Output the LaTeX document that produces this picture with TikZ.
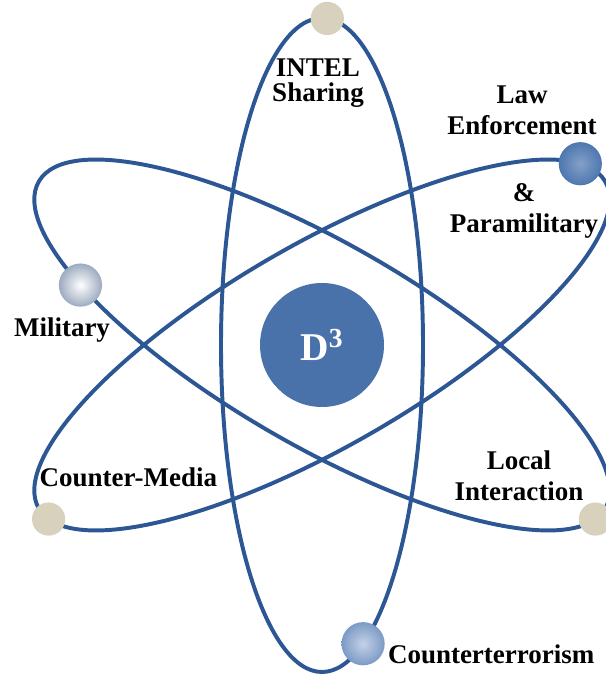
\documentclass[tikz,border=0pt]{standalone}
\usepackage{fontspec}
\setmainfont{Liberation Serif}
\definecolor{orbitblue}{RGB}{44,86,148}
\definecolor{coreblue}{RGB}{74,114,170}
\definecolor{sand}{RGB}{215,209,190}
\definecolor{deepblue}{RGB}{78,119,176}
\definecolor{midblue}{RGB}{124,154,198}
\definecolor{paleblue}{RGB}{184,201,226}
\tikzset{
	orbitline/.style={draw=orbitblue, line width=2.8pt},
	sandball/.style={circle, fill=sand, inner sep=0pt, minimum size=0.83cm},
	blueball/.style={circle, inner sep=0pt, minimum size=1.08cm, shading=radial},
	lbl/.style={align=center, font=\fontsize{19.2}{22}\selectfont\bfseries}
}
\begin{document}
\begin{tikzpicture}
	\useasboundingbox (0,0) rectangle (15.15,16.875);
	\coordinate (O) at (8.05,8.25);
	% three orbits
	\draw[orbitline, rotate around={90:(O)}] (O) ellipse [x radius=8.175, y radius=2.525];
	\draw[orbitline, rotate around={-30:(O)}] (O) ellipse [x radius=8.175, y radius=2.525];
	\draw[orbitline, rotate around={30:(O)}] (O) ellipse [x radius=8.175, y radius=2.525];
	% nucleus
	\node[circle, fill=coreblue, minimum size=3.1cm, text=white, font=\fontsize{28}{30}\selectfont\bfseries] (core) at (O) {D\textsuperscript{3}};
	% electrons
	\begin{scope}[shift={(O)}, rotate=90]
		\node[sandball] (intelball) at (357:8.175 and 2.525) {};
		\node[blueball, inner color=midblue!45!white, outer color=midblue] (ctball) at (204:8.175 and 2.525) {};
	\end{scope}
	\begin{scope}[shift={(O)}, rotate=30]
		\node[blueball, inner color=deepblue!70!white, outer color=deepblue] (lawball) at (16:8.175 and 2.525) {};
		\node[sandball] (mediaball) at (188:8.175 and 2.525) {};
	\end{scope}
	\begin{scope}[shift={(O)}, rotate=-30]
		\node[blueball, inner color=white, outer color=paleblue!85!black] (milball) at (223:8.175 and 2.525) {};
		\node[sandball] (localball) at (352:8.175 and 2.525) {};
	\end{scope}
	% labels
	\node[lbl] (intel) at (7.95,14.8) {INTEL\\[-4pt]Sharing};
	\node[lbl] (law) at (13.05,14.125) {Law\\Enforcement};
	\node[lbl] (para) at (13.1,11.6) {\&\\Paramilitary};
	\node[lbl] (mil) at (1.55,8.625) {Military};
	\node[lbl] (media) at (3.21,4.93) {Counter-Media};
	\node[lbl] (local) at (12.975,4.975) {Local\\Interaction};
	\node[lbl] (ct) at (12.28,0.525) {Counterterrorism};
\end{tikzpicture}
\end{document}
